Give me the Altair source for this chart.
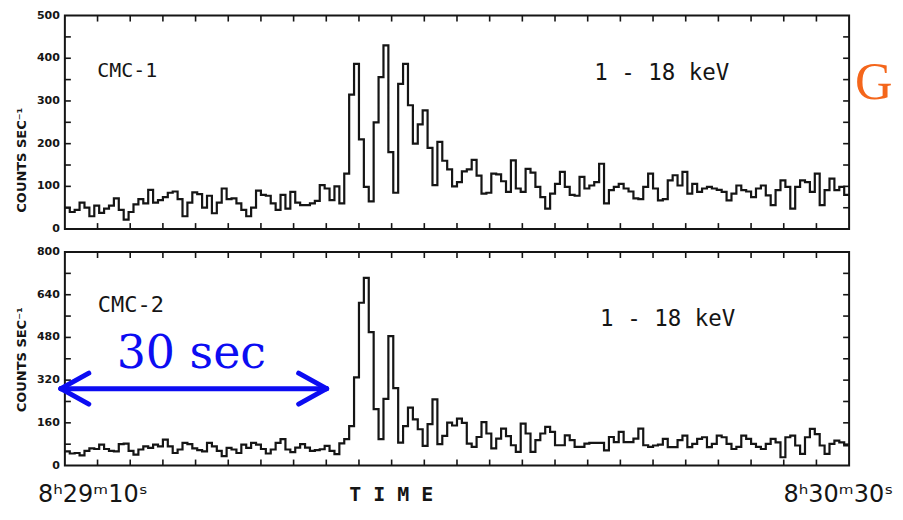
import altair as alt
import pandas as pd

# ---------------- data ----------------
BIN_S = 0.5          # seconds per bin
T_END = 80.0         # 8h29m10s .. 8h30m30s

# CMC-1 counts/s, 160 bins
cmc1 = [
    50, 40, 45, 62, 50, 30, 55, 38, 48, 55,
    72, 45, 22, 40, 58, 70, 60, 92, 62, 68,
    75, 85, 88, 70, 30, 62, 86, 82, 50, 78,
    37, 62, 95, 70, 72, 60, 45, 30, 50, 90,
    80, 78, 60, 45, 80, 48, 87, 62, 56, 56,
    60, 66, 103, 95, 68, 100, 60, 130, 315, 387,
    210, 99, 65, 250, 356, 430, 180, 85, 340, 387,
    290, 200, 245, 278, 190, 103, 204, 160, 140, 100,
    110, 135, 140, 162, 125, 83, 85, 130, 128, 112,
    87, 161, 95, 87, 141, 132, 99, 75, 48, 83,
    106, 134, 99, 80, 78, 122, 95, 102, 110, 153,
    60, 91, 99, 106, 95, 88, 72, 70, 99, 130,
    95, 67, 70, 114, 126, 102, 134, 83, 106, 87,
    95, 99, 95, 92, 87, 67, 83, 102, 91, 88,
    75, 95, 102, 79, 56, 91, 114, 99, 48, 99,
    114, 110, 87, 130, 56, 91, 118, 91, 99, 80,
]

# CMC-2 counts/s, 160 bins
cmc2 = [
    53, 45, 47, 38, 55, 64, 62, 78, 62, 55,
    53, 80, 82, 55, 41, 60, 72, 66, 78, 72,
    97, 72, 47, 60, 85, 80, 64, 58, 53, 85,
    72, 55, 35, 66, 60, 47, 78, 66, 85, 78,
    62, 45, 60, 85, 99, 60, 50, 67, 80, 67,
    55, 58, 61, 74, 55, 43, 83, 99, 148, 330,
    610, 703, 500, 211, 99, 250, 485, 290, 86, 148,
    217, 173, 136, 74, 155, 248, 80, 111, 161, 150,
    176, 160, 82, 70, 107, 163, 120, 64, 101, 138,
    110, 76, 51, 157, 120, 51, 95, 120, 145, 126,
    76, 76, 113, 95, 70, 70, 82, 85, 85, 85,
    57, 107, 88, 126, 88, 88, 101, 138, 76, 70,
    75, 78, 100, 69, 69, 95, 112, 69, 81, 100,
    106, 69, 81, 112, 106, 81, 62, 70, 112, 100,
    81, 70, 62, 81, 100, 87, 31, 106, 112, 75,
    44, 106, 137, 118, 75, 44, 81, 93, 87, 75,
]

panel_names = ["CMC-1", "CMC-2"]
energy_band = ["1 - 18 keV", "1 - 18 keV"]
y_title = ["COUNTS SEC\u207b\u00b9"]
y_max = [500, 800]
y_labels = [[0, 100, 200, 300, 400, 500], [0, 160, 320, 480, 640, 800]]
y_minor = [[50, 100, 150, 200, 250, 300, 350, 400, 450],
           [80, 160, 240, 320, 400, 480, 560, 640, 720]]
n_xticks = 24
time_labels = ["8\u02b029\u1d5010\u02e2", "8\u02b030\u1d5030\u02e2"]
time_title = ["T I M E"]
arrow_label = ["30 sec"]
side_letter = ["G"]

# ---------------- styling ----------------
W, H = 786, 214
INK = "#151515"
BLUE = "#0c0cf2"
ORANGE = "#f4661b"

xs = alt.Scale(domain=[0, T_END], nice=False, zero=False)


def step_frame(vals):
    t = [i * BIN_S for i in range(len(vals))] + [len(vals) * BIN_S]
    c = list(vals) + [vals[-1]]
    return pd.DataFrame({"t": t, "c": c})


def one(s):
    return pd.DataFrame({"s": [s]})


def panel(idx, vals, name_at, band_at, title_y, extra):
    ys = alt.Scale(domain=[0, y_max[idx]], nice=False)
    line = alt.Chart(step_frame(vals)).mark_line(
        interpolate="step-after", color=INK, strokeWidth=2.2
    ).encode(
        x=alt.X("t:Q", scale=xs, axis=None),
        y=alt.Y("c:Q", scale=ys, axis=None),
    )
    ylab = alt.Chart(pd.DataFrame({"v": y_labels[idx]})).mark_text(
        align="right", baseline="middle", dx=-5, font="DejaVu Sans",
        fontWeight="bold", fontSize=11, color=INK
    ).encode(x=alt.value(0), y=alt.Y("v:Q", scale=ys, axis=None), text="v:Q")
    xt = pd.DataFrame({"xt": [k * T_END / n_xticks for k in range(1, n_xticks)]})
    yt = pd.DataFrame({"yt": y_minor[idx]})
    rule = dict(color=INK, strokeWidth=1.6)
    tt = alt.Chart(xt).mark_rule(**rule).encode(
        x=alt.X("xt:Q", scale=xs, axis=None), y=alt.value(0), y2=alt.value(6))
    bt = alt.Chart(xt).mark_rule(**rule).encode(
        x=alt.X("xt:Q", scale=xs, axis=None), y=alt.value(H), y2=alt.value(H - 6))
    lt = alt.Chart(yt).mark_rule(**rule).encode(
        y=alt.Y("yt:Q", scale=ys, axis=None), x=alt.value(0), x2=alt.value(6))
    rt = alt.Chart(yt).mark_rule(**rule).encode(
        y=alt.Y("yt:Q", scale=ys, axis=None), x=alt.value(W), x2=alt.value(W - 6))
    name = alt.Chart(one(panel_names[idx])).mark_text(
        align="left", baseline="alphabetic", font="DejaVu Sans Mono",
        fontSize=name_at[2], color=INK
    ).encode(x=alt.datum(name_at[0]), y=alt.datum(name_at[1]), text="s:N")
    band = alt.Chart(one(energy_band[idx])).mark_text(
        align="left", baseline="alphabetic", font="DejaVu Sans Mono",
        fontSize=22.5, color=INK
    ).encode(x=alt.datum(band_at[0]), y=alt.datum(band_at[1]), text="s:N")
    ytitle = alt.Chart(one(y_title[0])).mark_text(
        angle=270, align="center", baseline="middle", font="DejaVu Sans",
        fontWeight="bold", fontSize=13, color=INK
    ).encode(x=alt.value(-43), y=alt.value(title_y), text="s:N")
    layers = [line, tt, bt, lt, rt, ylab, name, band, ytitle] + extra
    return alt.layer(*layers).properties(width=W, height=H)


# top panel extra: the orange letter at the right edge
g_letter = alt.Chart(one(side_letter[0])).mark_text(
    align="left", baseline="alphabetic", font="Liberation Serif",
    fontSize=52, color=ORANGE
).encode(x=alt.value(W + 6), y=alt.value(84), text="s:N")

top = panel(0, cmc1, (3.3, 355, 20), (54.0, 350), 145, [g_letter])

# bottom panel extras: the 30 s arrow, its label, time labels
A_T0, A_T1, A_Y = -0.41, 26.7, 288
ARM_T, ARM_Y = 2.85, 58
arrow_style = dict(color=BLUE, strokeWidth=5, strokeCap="round")
unit = one("")
shaft = alt.Chart(unit).mark_rule(**arrow_style).encode(
    x=alt.datum(A_T0), x2=alt.datum(A_T1), y=alt.datum(A_Y))
arms = []
for tip, sgn in ((A_T0, 1), (A_T1, -1)):
    for dy in (ARM_Y, -ARM_Y):
        arms.append(alt.Chart(unit).mark_rule(**arrow_style).encode(
            x=alt.datum(tip), y=alt.datum(A_Y),
            x2=alt.datum(tip + sgn * ARM_T), y2=alt.datum(A_Y + dy)))
alabel = alt.Chart(one(arrow_label[0])).mark_text(
    align="center", baseline="alphabetic", font="DejaVu Serif",
    fontSize=46, color=BLUE
).encode(x=alt.datum(12.9), y=alt.datum(365), text="s:N")

tl_left = alt.Chart(one(time_labels[0])).mark_text(
    align="left", baseline="alphabetic", font="DejaVu Sans", fontSize=24, color=INK
).encode(x=alt.datum(-2.75), y=alt.value(251), text="s:N")
tl_right = alt.Chart(one(time_labels[1])).mark_text(
    align="left", baseline="alphabetic", font="DejaVu Sans", fontSize=24, color=INK
).encode(x=alt.datum(73.3), y=alt.value(251), text="s:N")
ttitle = alt.Chart(one(time_title[0])).mark_text(
    align="center", baseline="alphabetic", font="DejaVu Sans Mono",
    fontWeight="bold", fontSize=20, color=INK
).encode(x=alt.datum(33.3), y=alt.value(250), text="s:N")

bottom = panel(1, cmc2, (3.36, 576, 22), (54.6, 523), 108,
               [shaft] + arms + [alabel, tl_left, tl_right, ttitle])

chart = alt.vconcat(top, bottom, spacing=10).properties(
    padding={"left": 7, "top": 0, "right": 0, "bottom": 0},
    background="white",
).configure_view(stroke=INK, strokeWidth=2)

chart.save("out.html", embed_options={"renderer": "svg", "actions": False})
